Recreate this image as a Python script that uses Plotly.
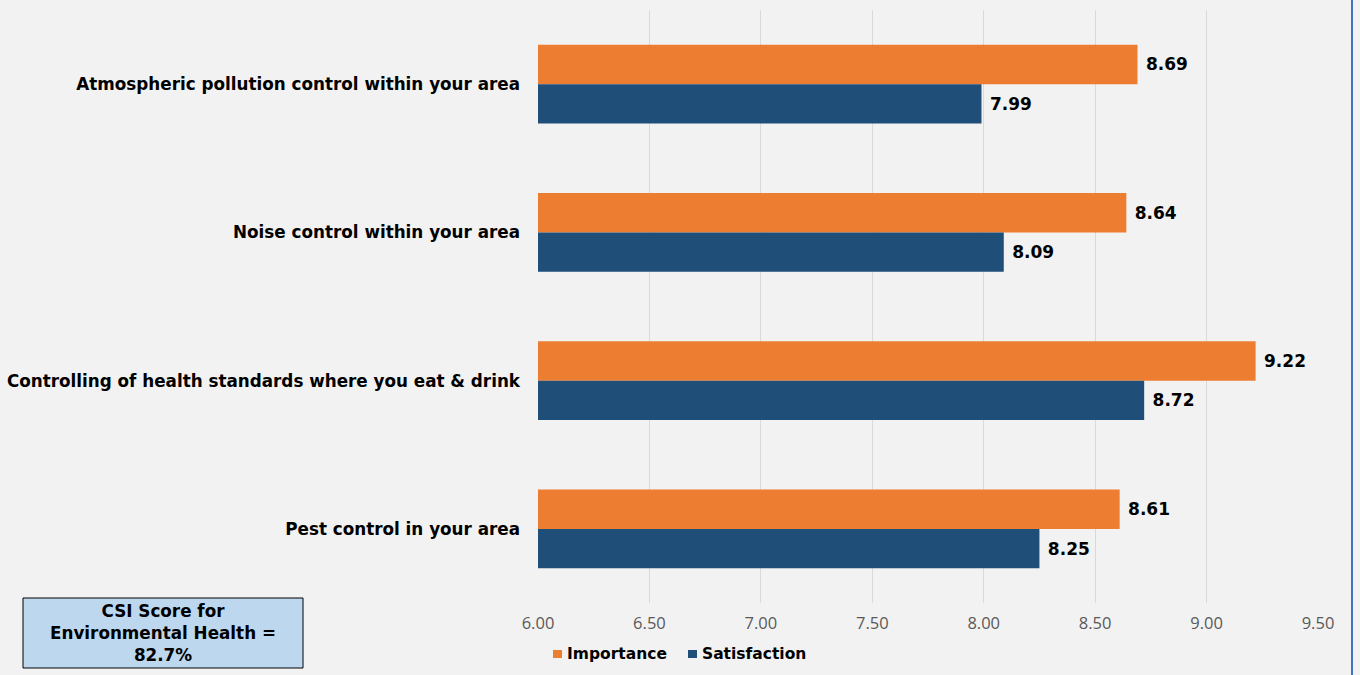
import plotly.graph_objects as go

# Survey items, listed top to bottom
categories = [
    "Atmospheric pollution control within your area",
    "Noise control within your area",
    "Controlling of health standards where you eat & drink",
    "Pest control in your area",
]
importance = [8.69, 8.64, 9.22, 8.61]
satisfaction = [7.99, 8.09, 8.72, 8.25]
tick_values = [6.0, 6.5, 7.0, 7.5, 8.0, 8.5, 9.0, 9.5]
series_names = ["Importance", "Satisfaction"]
csi_text = "CSI Score for<br>Environmental Health =<br>82.7%"

ORANGE = "#ed7d31"
NAVY = "#1f4e79"
BG = "#f2f2f2"

# Plot-area geometry in pixels, used to place the extra paper-space items
W, H = 1360, 675
L, R, T, B = 538, 42, 10, 72
PW, PH = W - L - R, H - T - B


def px_x(px):
    return (px - L) / PW


def px_y(py):
    return (H - B - py) / PH


label_font = dict(family="DejaVu Sans", size=17, color="#000000")

fig = go.Figure()
for name, vals, col in [(series_names[0], importance, ORANGE),
                        (series_names[1], satisfaction, NAVY)]:
    fig.add_trace(go.Bar(
        name=name, y=categories, x=vals, orientation="h",
        marker=dict(color=col, line=dict(width=0)),
        text=[f"\u00a0<b>{v:.2f}</b>" for v in vals], textposition="outside",
        textfont=label_font, cliponaxis=False, showlegend=False,
    ))

fig.update_layout(
    width=W, height=H,
    margin=dict(l=L, r=R, t=T, b=B, autoexpand=False),
    paper_bgcolor=BG, plot_bgcolor=BG,
    barmode="group", bargap=0.47, bargroupgap=0,
    showlegend=False,
)

fig.update_xaxes(
    range=[6.0, 9.5], tickvals=tick_values,
    ticktext=[f"{v:.2f}" for v in tick_values],
    showgrid=True, gridcolor="#d9d9d9", gridwidth=1,
    zeroline=False, showline=False, ticks="", automargin=False,
    tickfont=dict(family="Open Sans", size=16.5, color="#595959"),
    ticklabelstandoff=8,
)
fig.update_yaxes(
    autorange="reversed", showgrid=False, showline=False, ticks="",
    automargin=False,
    tickfont=dict(family="DejaVu Sans", size=16.8, color="#000000"),
    tickprefix="<b>", ticksuffix="</b>", ticklabelstandoff=17,
)

# Legend: colour swatches with bold labels below the axis
legend_items = [(series_names[0], ORANGE, 553), (series_names[1], NAVY, 688)]
for name, col, x0 in legend_items:
    fig.add_shape(
        type="rect", xref="paper", yref="paper",
        x0=px_x(x0), x1=px_x(x0 + 9), y0=px_y(658), y1=px_y(650),
        fillcolor=col, line=dict(width=0),
    )
    fig.add_annotation(
        xref="paper", yref="paper", x=px_x(x0 + 12), y=px_y(654),
        xanchor="left", yanchor="middle", showarrow=False,
        text=f"<b>{name}</b>",
        font=dict(family="DejaVu Sans", size=15.5, color="#000000"),
    )

# CSI summary box
fig.add_shape(
    type="rect", xref="paper", yref="paper",
    x0=px_x(23), x1=px_x(303), y0=px_y(668), y1=px_y(598),
    fillcolor="#bdd7ee", line=dict(color="#000000", width=1),
)
fig.add_annotation(
    xref="paper", yref="paper", x=px_x(163), y=px_y(633),
    xanchor="center", yanchor="middle",
    text=f"<b>{csi_text}</b>", showarrow=False, align="center",
    font=dict(family="DejaVu Sans", size=16.8, color="#000000"),
)

# Right edge rule
fig.add_shape(
    type="line", xref="paper", yref="paper",
    x0=px_x(1352), x1=px_x(1352), y0=px_y(H), y1=px_y(0),
    line=dict(color="#4472c4", width=2),
)

fig.write_html("out.html")
